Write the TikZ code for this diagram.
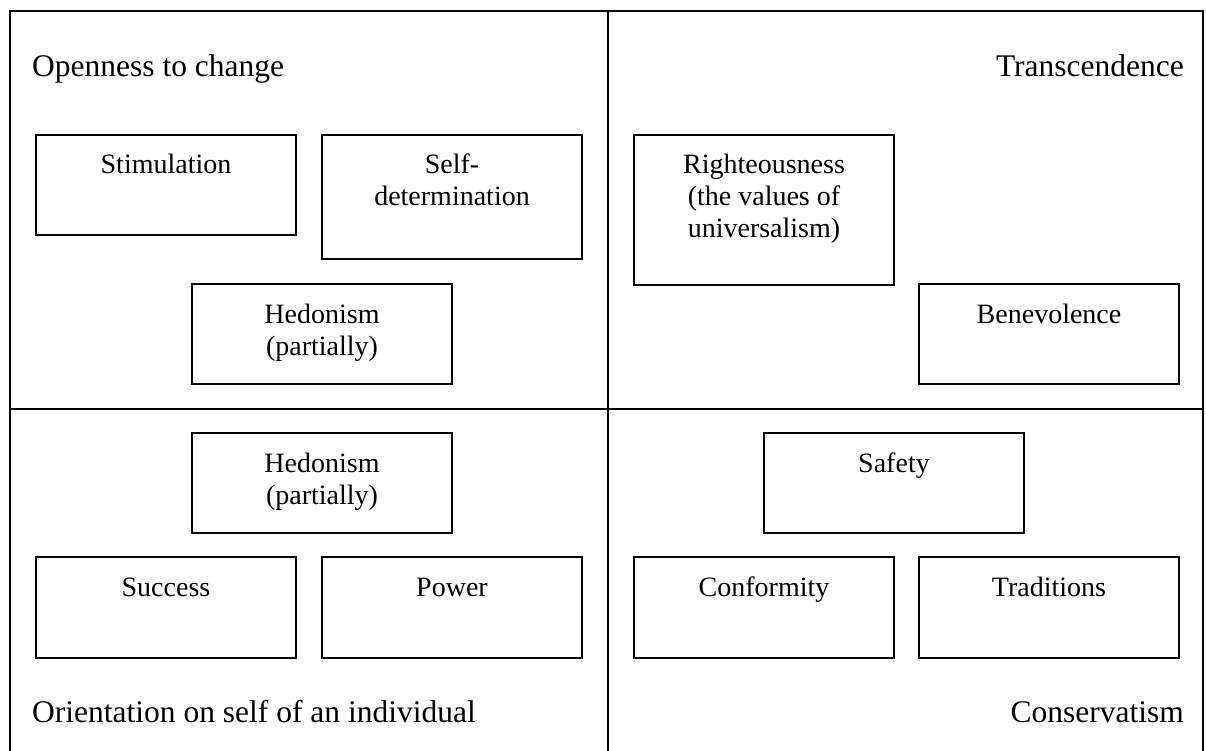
\documentclass[tikz,border=0pt]{standalone}
\usepackage{fontspec}
\setmainfont{Liberation Serif}
\newcommand\valbox[2]{\parbox[t][#1][t]{260pt}{\centering\rule{0pt}{39pt}#2}}
\begin{document}
\begin{tikzpicture}[x=1pt,y=-1pt,
  vbox/.style={draw, line width=1.3pt, inner sep=0pt, outer sep=0pt, anchor=north west,
    font=\fontsize{28}{32}\selectfont},
  headL/.style={inner sep=0pt, anchor=base west, font=\fontsize{31.5}{36}\selectfont},
  headR/.style={inner sep=0pt, anchor=base east, font=\fontsize{31.5}{36}\selectfont},
  frame/.style={line width=1.6pt}]
\useasboundingbox (0,0) rectangle (1206,751);
% frame
\draw[frame] (10,751) -- (10,11) -- (1203,11) -- (1203,751);
\draw[frame] (608,11) -- (608,751);
\draw[frame] (10,409) -- (1203,409);
% headings
\node[headL] (open) at (32,77) {Openness to change};
\node[headR] (trans) at (1184,77) {Transcendence};
\node[headL] (orient) at (32,722) {Orientation on self of an individual};
\node[headR] (cons) at (1184,722) {Conservatism};
% boxes
\node[vbox] (stim) at (36,135) {\valbox{100pt}{Stimulation}};
\node[vbox] (selfdet) at (322,135) {\valbox{124pt}{Self-\\determination}};
\node[vbox] (hedA) at (192,284) {\valbox{100pt}{Hedonism\\(partially)}};
\node[vbox] (right) at (634,135) {\valbox{150pt}{Righteousness\\(the values of\\universalism)}};
\node[vbox] (bene) at (919,284) {\valbox{100pt}{Benevolence}};
\node[vbox] (hedB) at (192,433) {\valbox{100pt}{Hedonism\\(partially)}};
\node[vbox] (succ) at (36,557) {\valbox{101pt}{Success}};
\node[vbox] (power) at (322,557) {\valbox{101pt}{Power}};
\node[vbox] (safety) at (764,433) {\valbox{100pt}{Safety}};
\node[vbox] (conf) at (634,557) {\valbox{101pt}{Conformity}};
\node[vbox] (trad) at (919,557) {\valbox{101pt}{Traditions}};
\end{tikzpicture}
\end{document}
